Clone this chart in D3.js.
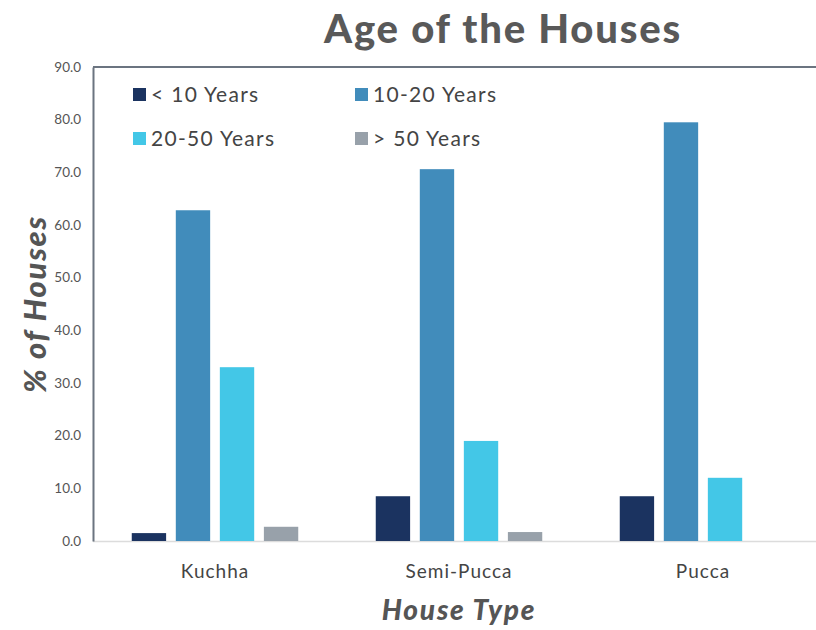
<!DOCTYPE html>
<html>
<head>
<meta charset="utf-8">
<script src="https://cdn.jsdelivr.net/npm/d3@7"></script>
<style>
  html, body { margin: 0; padding: 0; background: #fff; }
  svg { display: block; font-family: Lato, "Open Sans", sans-serif; }
</style>
</head>
<body>
<svg id="chart" width="816" height="630"></svg>
<script>
// House types along the x axis
const houseTypes = ["Kuchha", "Semi-Pucca", "Pucca"];
// Age bands (series)
const ageBands = ["< 10 Years", "10-20 Years", "20-50 Years", "> 50 Years"];
// Percentage of houses in each age band, per house type
const lessThan10 = [1.5, 8.5, 8.5];
const from10to20 = [62.8, 70.6, 79.5];
const from20to50 = [33.0, 19.0, 12.0];
const over50 = [2.7, 1.7, 0];
const yTicks = [0, 10, 20, 30, 40, 50, 60, 70, 80, 90];

const seriesValues = [lessThan10, from10to20, from20to50, over50];
const colors = ["#1b3360", "#418cbb", "#43c7e7", "#98a1aa"];

const svg = d3.select("#chart");
const plotLeft = 93, plotTop = 67, plotBottom = 541, plotRight = 825;

const x0 = d3.scaleBand().domain(houseTypes).range([plotLeft, plotRight]).paddingInner(0).paddingOuter(0);
const x1 = d3.scaleBand().domain(ageBands).range([0, x0.bandwidth()]).paddingInner(0.22).paddingOuter(0.88);
const y = d3.scaleLinear().domain([0, 90]).range([plotBottom, plotTop]);

// Plot frame: top border and baseline
svg.append("line").attr("x1", plotLeft).attr("x2", 816).attr("y1", plotTop).attr("y2", plotTop)
  .attr("stroke", "#6b7480").attr("stroke-width", 2);
svg.append("line").attr("x1", plotLeft).attr("x2", 816).attr("y1", plotBottom + 0.5).attr("y2", plotBottom + 0.5)
  .attr("stroke", "#dcdcdc").attr("stroke-width", 1.5);

// Bars
const groups = svg.append("g").selectAll("g")
  .data(houseTypes)
  .join("g")
  .attr("transform", d => `translate(${x0(d)},0)`);

groups.selectAll("rect")
  .data((d, i) => ageBands.map((b, j) => ({ band: b, value: seriesValues[j][i], color: colors[j] })))
  .join("rect")
  .filter(d => d.value > 0)
  .attr("x", d => x1(d.band))
  .attr("width", x1.bandwidth())
  .attr("y", d => y(d.value))
  .attr("height", d => y(0) - y(d.value))
  .attr("fill", d => d.color);

// Y axis
const yAxis = svg.append("g")
  .attr("transform", `translate(${plotLeft},0)`)
  .call(d3.axisLeft(y).tickValues(yTicks).tickFormat(d3.format(".1f")).tickSize(0).tickPadding(12));
yAxis.select(".domain").attr("stroke", "#6b7480").attr("stroke-width", 2);
yAxis.selectAll("text").attr("font-size", 13.5).attr("fill", "#555").attr("font-family", "Lato, sans-serif");

// X axis labels
const xAxis = svg.append("g")
  .attr("transform", `translate(0,${plotBottom})`)
  .call(d3.axisBottom(x0).tickSize(0).tickPadding(24));
xAxis.select(".domain").remove();
xAxis.selectAll("text").attr("font-size", 19).attr("fill", "#444")
  .attr("font-family", "Lato, sans-serif").attr("letter-spacing", 1);

// Title
svg.append("text").attr("x", 503).attr("y", 43).attr("text-anchor", "middle")
  .attr("font-size", 40).attr("font-weight", 900).attr("fill", "#595959")
  .attr("letter-spacing", 1.8)
  .text("Age of the Houses");

// Axis titles
svg.append("text").attr("x", 459).attr("y", 620).attr("text-anchor", "middle")
  .attr("font-size", 28).attr("font-weight", 900).attr("font-style", "italic").attr("fill", "#555")
  .attr("letter-spacing", 1.8)
  .text("House Type");
svg.append("text").attr("transform", "translate(46,304) rotate(-90)").attr("text-anchor", "middle")
  .attr("font-size", 31).attr("font-weight", 900).attr("font-style", "italic").attr("fill", "#555")
  .attr("letter-spacing", 1.8)
  .text("% of Houses");

// Legend
const legendPos = [[133, 88], [355, 88], [133, 132], [355, 132]];
const legend = svg.append("g").selectAll("g")
  .data(ageBands)
  .join("g")
  .attr("transform", (d, i) => `translate(${legendPos[i][0]},${legendPos[i][1]})`);
legend.append("rect").attr("width", 13).attr("height", 13).attr("fill", (d, i) => colors[i]);
legend.append("text").attr("x", 18).attr("y", 14).attr("font-size", 21).attr("fill", "#444")
  .attr("letter-spacing", 1.3)
  .text(d => d);
</script>
</body>
</html>
